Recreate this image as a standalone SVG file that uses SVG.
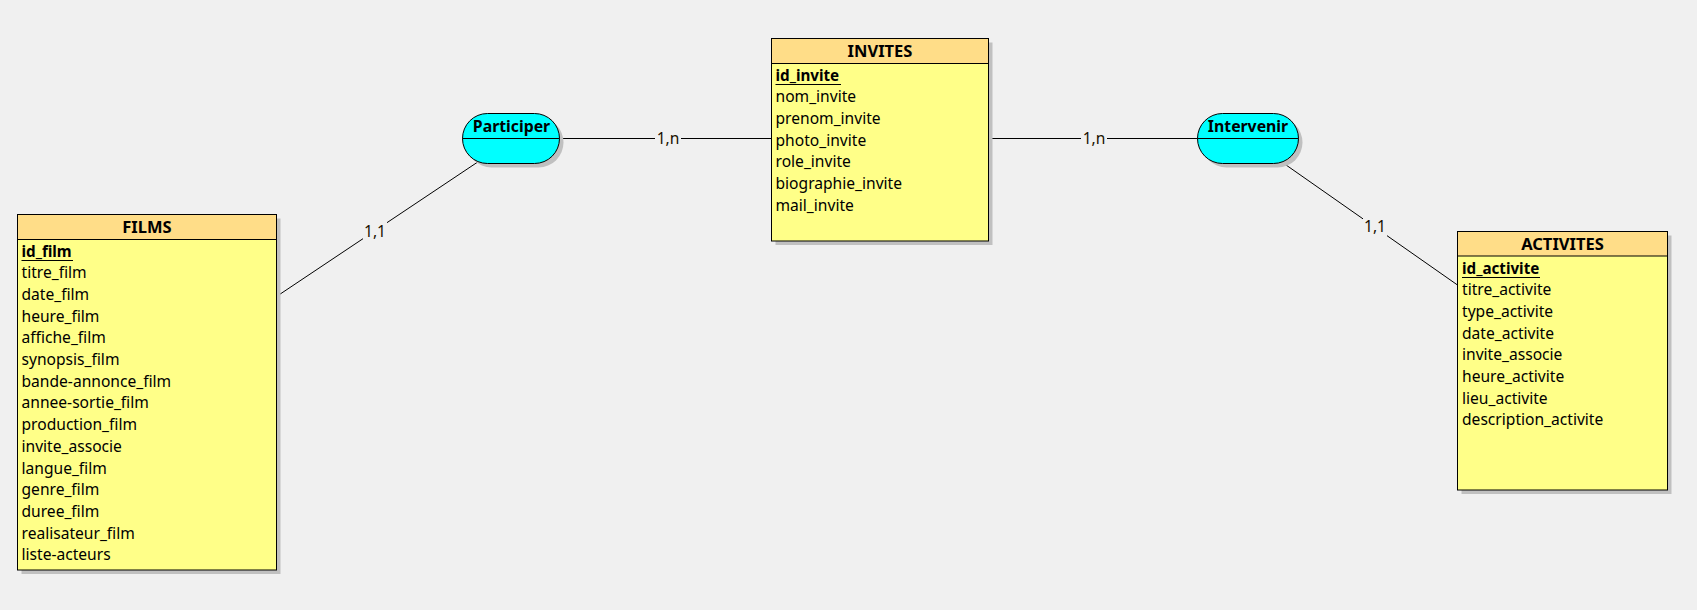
<svg xmlns="http://www.w3.org/2000/svg" width="1697" height="610" viewBox="0 0 1697 610">
<style>
.bg{fill:#F0F0F0}
.shadow{fill:#C0C0C0}
.head{fill:#FFDD88;stroke:#000;stroke-width:1}
.body{fill:#FFFF88;stroke:#000;stroke-width:1}
.assoc{fill:#00FFFF;stroke:#000;stroke-width:1}
.sep{stroke:#000;stroke-width:1}
.title{font-family:"Noto Sans","Open Sans",sans-serif;font-size:16.5px;font-weight:bold;fill:#000;text-anchor:middle}
.aname{font-family:"Noto Sans","Open Sans",sans-serif;font-size:15.8px;font-weight:bold;fill:#000;text-anchor:middle}
.attr{font-family:"Noto Sans","Open Sans",sans-serif;font-size:15.6px;fill:#000}
.key{font-family:"Noto Sans","Open Sans",sans-serif;font-size:15.2px;font-weight:bold;fill:#000}
.link{stroke:#000;stroke-width:1;fill:none}
.lblbg{fill:#F0F0F0}
.card{font-family:"Noto Sans","Open Sans",sans-serif;font-size:15.6px;fill:#1a1000;text-anchor:middle}
</style>
<rect class="bg" x="0" y="0" width="1697" height="610"/>

<g id="connectors">
<line class="link" x1="559.5" y1="138.5" x2="771.5" y2="138.5"/>
<rect class="lblbg" x="655" y="130" width="26" height="17"/>
<text class="card" x="668" y="143.5">1,n</text>
<line class="link" x1="988.5" y1="138.5" x2="1197.5" y2="138.5"/>
<rect class="lblbg" x="1081" y="130" width="26" height="17"/>
<text class="card" x="1094" y="143.5">1,n</text>
<line class="link" x1="276.5" y1="296.5" x2="478.5" y2="161.5"/>
<rect class="lblbg" x="363" y="222" width="24" height="20"/>
<text class="card" x="375" y="236.5">1,1</text>
<line class="link" x1="1282.5" y1="162.5" x2="1457.5" y2="285"/>
<rect class="lblbg" x="1363" y="217" width="24" height="20"/>
<text class="card" x="1375" y="231.5">1,1</text>
</g>

<g id="FILMS">
<rect class="shadow" x="21.5" y="218.5" width="259" height="355.5"/>
<rect class="body" x="17.5" y="214.5" width="259" height="355.5"/>
<rect class="head" x="17.5" y="214.5" width="259" height="25"/>
<text class="title" x="147" y="232.5">FILMS</text>
<text class="key" x="21.5" y="256.5">id_film</text>
<line class="sep" x1="21.5" y1="260.5" x2="73" y2="260.5" stroke-width="1.5"/>
<text class="attr" x="21.5" y="278.2">titre_film</text>
<text class="attr" x="21.5" y="299.9">date_film</text>
<text class="attr" x="21.5" y="321.6">heure_film</text>
<text class="attr" x="21.5" y="343.3">affiche_film</text>
<text class="attr" x="21.5" y="365">synopsis_film</text>
<text class="attr" x="21.5" y="386.7">bande-annonce_film</text>
<text class="attr" x="21.5" y="408.4">annee-sortie_film</text>
<text class="attr" x="21.5" y="430.1">production_film</text>
<text class="attr" x="21.5" y="451.8">invite_associe</text>
<text class="attr" x="21.5" y="473.5">langue_film</text>
<text class="attr" x="21.5" y="495.2">genre_film</text>
<text class="attr" x="21.5" y="516.9">duree_film</text>
<text class="attr" x="21.5" y="538.6">realisateur_film</text>
<text class="attr" x="21.5" y="560.3">liste-acteurs</text>
</g>

<g id="INVITES">
<rect class="shadow" x="775.5" y="42.5" width="217" height="202.5"/>
<rect class="body" x="771.5" y="38.5" width="217" height="202.5"/>
<rect class="head" x="771.5" y="38.5" width="217" height="25"/>
<text class="title" x="880" y="56.7">INVITES</text>
<text class="key" x="775.5" y="80.5">id_invite</text>
<line class="sep" x1="775.5" y1="84.5" x2="841" y2="84.5" stroke-width="1.5"/>
<text class="attr" x="775.5" y="102.2">nom_invite</text>
<text class="attr" x="775.5" y="123.9">prenom_invite</text>
<text class="attr" x="775.5" y="145.6">photo_invite</text>
<text class="attr" x="775.5" y="167.3">role_invite</text>
<text class="attr" x="775.5" y="189">biographie_invite</text>
<text class="attr" x="775.5" y="210.7">mail_invite</text>
</g>

<g id="ACTIVITES">
<rect class="shadow" x="1461.5" y="235.5" width="210" height="258.5"/>
<rect class="body" x="1457.5" y="231.5" width="210" height="258.5"/>
<rect class="head" x="1457.5" y="231.5" width="210" height="24.5"/>
<text class="title" x="1562.5" y="250">ACTIVITES</text>
<text class="key" x="1462" y="273.5">id_activite</text>
<line class="sep" x1="1462" y1="277.5" x2="1540" y2="277.5" stroke-width="1.5"/>
<text class="attr" x="1462" y="295.2">titre_activite</text>
<text class="attr" x="1462" y="316.9">type_activite</text>
<text class="attr" x="1462" y="338.6">date_activite</text>
<text class="attr" x="1462" y="360.3">invite_associe</text>
<text class="attr" x="1462" y="382">heure_activite</text>
<text class="attr" x="1462" y="403.7">lieu_activite</text>
<text class="attr" x="1462" y="425.4">description_activite</text>
</g>

<g id="Participer">
<rect class="shadow" x="466.5" y="117.5" width="97" height="50" rx="25" ry="25"/>
<rect class="assoc" x="462.5" y="113.5" width="97" height="50" rx="25" ry="25"/>
<line class="sep" x1="462.5" y1="138.5" x2="559.5" y2="138.5"/>
<text class="aname" x="511.5" y="131.5">Participer</text>
</g>

<g id="Intervenir">
<rect class="shadow" x="1201.5" y="117.5" width="101" height="50" rx="25" ry="25"/>
<rect class="assoc" x="1197.5" y="113.5" width="101" height="50" rx="25" ry="25"/>
<line class="sep" x1="1197.5" y1="138.5" x2="1298.5" y2="138.5"/>
<text class="aname" x="1248" y="131.5">Intervenir</text>
</g>
</svg>
